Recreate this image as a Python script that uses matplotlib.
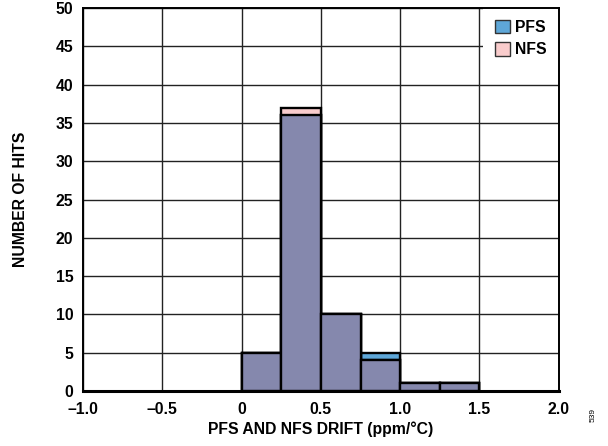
import numpy as np
import matplotlib.pyplot as plt
from matplotlib.patches import Patch

plt.rcParams['font.family'] = ['Liberation Sans', 'DejaVu Sans']
plt.rcParams['font.weight'] = 'bold'

# data: histogram bins (ppm/°C) and hit counts
bin_left = [0.0, 0.25, 0.5, 0.75, 1.0, 1.25]
bin_width = 0.25
pfs_hits = [5, 36, 10, 5, 1, 1]
nfs_hits = [5, 37, 10, 4, 1, 1]

x_ticks = [-1.0, -0.5, 0, 0.5, 1.0, 1.5, 2.0]
x_labels = ['–1.0', '–0.5', '0', '0.5', '1.0', '1.5', '2.0']
y_ticks = list(range(0, 51, 5))

pfs_color = '#5ea7d8'
nfs_color = '#f9cccc'
both_color = '#8588ad'

fs = 11.3

fig = plt.figure(figsize=(6.08, 4.46), dpi=100)
ax = fig.add_axes([0.1365, 0.1233, 0.7825, 0.8587])

overlap = np.minimum(pfs_hits, nfs_hits)
ax.bar(bin_left, pfs_hits, width=bin_width, align='edge', color=pfs_color,
       edgecolor='black', linewidth=1.7, zorder=3)
ax.bar(bin_left, nfs_hits, width=bin_width, align='edge', color=nfs_color,
       edgecolor='black', linewidth=1.7, zorder=3)
ax.bar(bin_left, overlap, width=bin_width, align='edge', color=both_color,
       edgecolor='black', linewidth=1.7, zorder=4)

ax.set_xlim(-1.0, 2.0)
ax.set_ylim(0, 50)
ax.set_xticks(x_ticks)
ax.set_xticklabels(x_labels)
ax.set_yticks(y_ticks)
ax.tick_params(axis='both', length=0, labelsize=fs)
ax.tick_params(axis='x', pad=8)
ax.tick_params(axis='y', pad=7)
ax.grid(True, color='#222222', linewidth=1.0, zorder=1)
ax.set_axisbelow(True)
for s in ax.spines.values():
    s.set_linewidth(1.4)
    s.set_zorder(6)
ax.spines['bottom'].set_linewidth(2.2)

ax.set_xlabel('PFS AND NFS DRIFT (ppm/°C)', fontsize=fs, fontweight='bold', labelpad=3)
ax.set_ylabel('NUMBER OF HITS', fontsize=fs, fontweight='bold', labelpad=20)

handles = [Patch(facecolor=pfs_color, edgecolor='#333333', label='PFS'),
           Patch(facecolor=nfs_color, edgecolor='#333333', label='NFS')]
leg = ax.legend(handles=handles, loc='upper right', frameon=True, fancybox=False,
                fontsize=fs, handlelength=0.95, handleheight=0.95, handletextpad=0.35,
                borderpad=0.75, labelspacing=0.45, borderaxespad=0.0)
leg.get_frame().set_edgecolor('none')
leg.get_frame().set_facecolor('white')
leg.get_frame().set_alpha(1)
leg.set_zorder(5)

fig.text(0.975, 0.07, '539', fontsize=6, rotation=90, ha='center', va='center',
         fontweight='normal')

fig.savefig('out.png', dpi=100)
